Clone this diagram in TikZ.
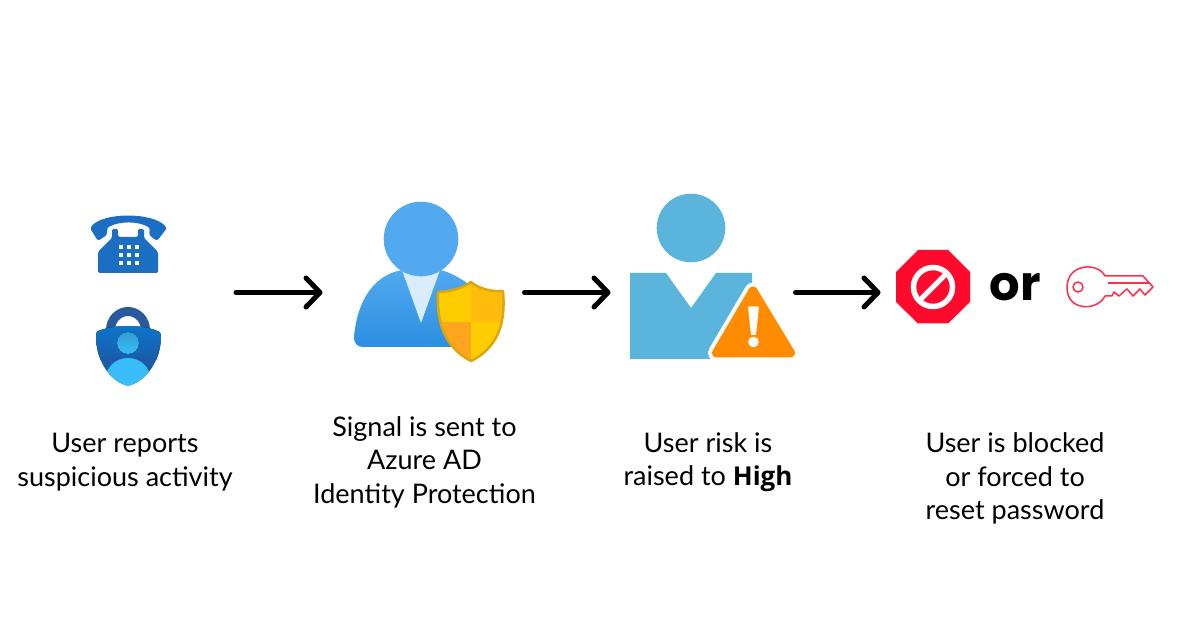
\documentclass[tikz,border=0pt]{standalone}
\usepackage{fontspec}
\setmainfont{Lato}
\newfontfamily\orfont{Poppins}
\newfontfamily\highfont{Open Sans}
\usetikzlibrary{arrows.meta}
\definecolor{phoneblue}{HTML}{1B6EC2}
\definecolor{shackleblue}{HTML}{2A5A9E}
\definecolor{lockdark}{HTML}{1A5CA8}
\definecolor{locktop}{HTML}{0A78D2}
\definecolor{lockcyan}{HTML}{38BDF8}
\definecolor{headblue}{HTML}{52A9EF}
\definecolor{bodyblue}{HTML}{2B8FE2}
\definecolor{tieblue}{HTML}{D8ECFB}
\definecolor{shieldedge}{HTML}{DDA60A}
\definecolor{shieldyellow}{HTML}{FFCC00}
\definecolor{shieldamber}{HTML}{FFA51F}
\definecolor{riskblue}{HTML}{5AB4DB}
\definecolor{warnorange}{HTML}{FF8C00}
\definecolor{stopred}{HTML}{FF0A2D}
\definecolor{keyred}{HTML}{FF2D4A}
\begin{document}
\begin{tikzpicture}[
    x=1pt, y=-1pt,
    iconbox/.style={inner sep=0pt, outer sep=0pt, minimum height=1pt},
    caption/.style={align=center, inner sep=0pt, font=\fontsize{27}{33.5}\selectfont},
    arr/.style={-{Straight Barb[length=14pt,width=29pt,round]}, line width=5pt, line cap=round, black},
    keyline/.style={draw=keyred, line width=1.5pt, line join=round},
  ]
  \useasboundingbox[fill=white] (0,0) rectangle (1200,628);

  % icon slots, the arrows run between them
  \node[iconbox, minimum width=199pt] (reports) at (136.5,292.5) {};
  \node[iconbox, minimum width=202pt] (signal) at (423.5,292.5) {};
  \node[iconbox, minimum width=185pt] (risk) at (703,292.5) {};
  \node[iconbox, minimum width=275pt] (outcome) at (1018,292.5) {};

  % phone
  \fill[phoneblue, rounded corners=2.5pt] (90,228) .. controls (103,212) and (153,212) .. (167,228)
    -- (157,241) -- (149,235) -- (150,228) .. controls (138,221) and (119,221) .. (107,228) -- (107,235) -- (98,241) -- cycle;
  \fill[phoneblue, rounded corners=1.5pt] (98,273) -- (98,252) -- (112,238) -- (112,229) -- (118,229) -- (118,237)
    -- (138,237) -- (138,229) -- (144,229) -- (144,238) -- (158,252) -- (158,273) -- cycle;
  \foreach \kx in {120.5,128.5,136.5}
    \foreach \ky in {247,255,263}
      \fill[white] (\kx-2,\ky-2) rectangle (\kx+2,\ky+2);

  % authenticator lock
  \draw[shackleblue, line width=9pt] (110.5,335) -- (110.5,330) arc[start angle=180, end angle=0, x radius=17.5pt, y radius=18.5pt] -- (145.5,335);
  \begin{scope}
    \clip (96,336) .. controls (96,330) and (99,331) .. (104,329) .. controls (112,327) and (120,326) .. (128,326) .. controls (136,326) and (144,327) .. (152,329) .. controls (157,331) and (161,331) .. (161,336)
      .. controls (161,360) and (147,381) .. (128,386) .. controls (109,381) and (96,360) .. (96,336) -- cycle;
    \fill[top color=locktop, bottom color=lockdark] (90,322) rectangle (166,360);
    \fill[lockdark] (90,359) rectangle (166,390);
    \fill[top color=lockcyan!85!black, bottom color=lockcyan] (128,343) circle[radius=11pt];
    \fill[lockcyan] (128,378) ellipse[x radius=22pt, y radius=20pt];
  \end{scope}

  % user with shield
  \path[top color=headblue, bottom color=bodyblue] (402,270) .. controls (375,275) and (358,298) .. (354,336)
    .. controls (353.5,343) and (357,347) .. (363,347)
    -- (470,347) -- (470,285) .. controls (460,278) and (450,272) .. (440,270) -- cycle;
  \fill[tieblue] (402,270) -- (440,270) -- (421,323) -- cycle;
  \fill[headblue] (421,239) circle[radius=37.3pt];
  \begin{scope}
    \clip (471,282) .. controls (478,288) and (490,292) .. (503,291) .. controls (505,315) and (503,345) .. (471,361)
      .. controls (440,345) and (437,315) .. (438,292) .. controls (450,292) and (463,288) .. (471,282) -- cycle;
    \fill[shieldyellow] (430,275) rectangle (471,322);
    \fill[shieldamber!40!shieldyellow] (471,275) rectangle (510,322);
    \fill[shieldamber] (430,322) rectangle (471,365);
    \fill[shieldyellow] (471,322) rectangle (510,365);
  \end{scope}
  \draw[shieldedge, line width=2.5pt, line join=round] (471,282) .. controls (478,288) and (490,292) .. (503,291) .. controls (505,315) and (503,345) .. (471,361)
      .. controls (440,345) and (437,315) .. (438,292) .. controls (450,292) and (463,288) .. (471,282) -- cycle;

  % user at risk
  \fill[riskblue] (691,228) circle[radius=34.3pt];
  \fill[riskblue] (630,273) -- (666,273) -- (691,308) -- (716,273) -- (752,273) -- (752,300) -- (725,359) -- (630,359) -- cycle;
  \draw[white, line width=17pt, line join=round] (753,291) -- (716.5,353) -- (790.5,353) -- cycle;
  \draw[warnorange, fill=warnorange, line width=9pt, line join=round] (753,291) -- (716.5,353) -- (790.5,353) -- cycle;
  \fill[white, rounded corners=0.8pt] (748,306.5) -- (759,306.5) -- (756,335) -- (751,335) -- cycle;
  \fill[white] (753.5,342) circle[radius=5.3pt];

  % stop sign
  \fill[stopred] (918,250) -- (948,250) -- (970,272) -- (970,302) -- (948,323.5) -- (918,323.5) -- (896,302) -- (896,272) -- cycle;
  \draw[white, line width=5.5pt] (933,287) circle[radius=19.5pt];
  \draw[white, line width=5pt] (919,301) -- (947,273);

  \node[inner sep=0pt, font=\orfont\bfseries\fontsize{48}{48}\selectfont] (orword) at (1015.5,287) {or};

  % key
  \draw[keyline] (1105,276) .. controls (1098,262) and (1067,263) .. (1067,287.5) .. controls (1067,312) and (1098,311) .. (1105,296)
    -- (1112,296) -- (1114,292) -- (1119,296) -- (1127,289) -- (1133,296) -- (1140,289) -- (1145,295) -- (1153,287) -- (1143,276) -- cycle;
  \draw[keyline] (1108,283) -- (1150,283);
  \draw[keyline] (1078,287) circle[radius=5pt];

  \draw[arr] (reports) -- (signal);
  \draw[arr] (signal) -- (risk);
  \draw[arr] (risk) -- (outcome);

  % captions
  \node[caption] (reportstext) at (125,462) {User reports\\suspicious activity};
  \node[caption] (signaltext) at (424.5,462) {Signal is sent to\\Azure AD\\Identity Protection};
  \node[caption] (risktext) at (708,462) {User risk is\\raised to {\highfont\bfseries\fontsize{26}{33.5}\selectfont High}};
  \node[caption] (outcometext) at (1015,478.5) {User is blocked\\or forced to\\reset password};
\end{tikzpicture}
\end{document}
